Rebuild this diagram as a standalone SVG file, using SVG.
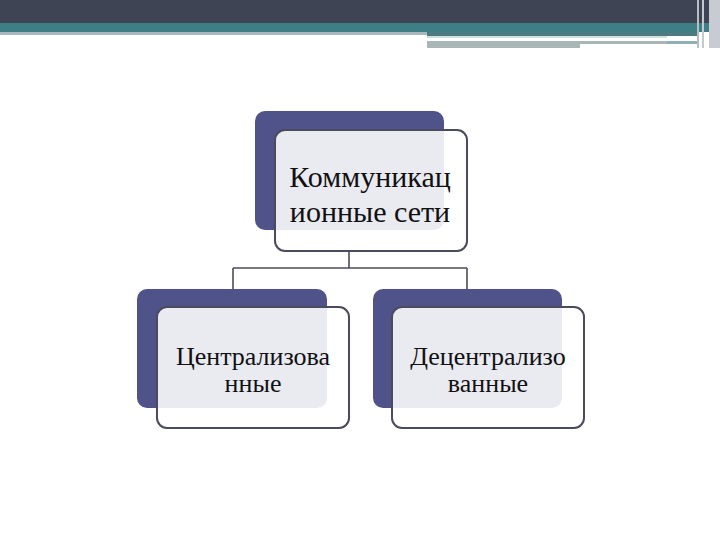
<svg xmlns="http://www.w3.org/2000/svg" width="720" height="540" viewBox="0 0 720 540">
<style>
.back{fill:#50528a}
.front{fill:#ffffff;fill-opacity:0.88;stroke:#4b4b5e;stroke-width:2}
.lbl{font-family:"Liberation Serif","Times New Roman",serif;fill:#111111;text-anchor:middle}
.conn{fill:none;stroke:#4b4b5e;stroke-width:1.6}
</style>
<rect x="0" y="0" width="720" height="540" fill="#ffffff"/>
<g id="header">
<rect x="0" y="0" width="720" height="24" fill="#3f4455"/>
<rect x="0" y="23" width="720" height="9" fill="#3e7f86"/>
<rect x="0" y="32" width="427" height="3" fill="#a9b8bd"/>
<rect x="427" y="32" width="270" height="4" fill="#4d7a80"/>
<rect x="427" y="36" width="240" height="2" fill="#cfe0e0"/>
<rect x="427" y="41" width="240" height="3" fill="#a8b6b6"/>
<rect x="667" y="41" width="30" height="3" fill="#8fb0b4"/>
<rect x="427" y="44" width="153" height="4" fill="#a8b6b6"/>
<rect x="697" y="0" width="2" height="48" fill="#b8bcc6"/>
<rect x="702" y="0" width="2" height="48" fill="#c4c8d0"/>
<rect x="709" y="0" width="11" height="48" fill="#c9cbd3"/>
</g>
<g id="connectors">
<path class="conn" d="M349 252 V268 M233 268 H467 M233 268 V290 M467 268 V290"/>
</g>
<g id="node-root">
<rect class="back" x="255" y="111" width="189" height="119" rx="10"/>
<rect class="front" x="275" y="130" width="192" height="121" rx="10"/>
<text class="lbl" font-size="30"><tspan x="370" y="187">Коммуникац</tspan><tspan x="370" y="222">ионные сети</tspan></text>
</g>
<g id="node-left">
<rect class="back" x="137" y="289" width="190" height="119" rx="10"/>
<rect class="front" x="157" y="307" width="192" height="121" rx="10"/>
<text class="lbl" font-size="26"><tspan x="253" y="365">Централизова</tspan><tspan x="253" y="392">нные</tspan></text>
</g>
<g id="node-right">
<rect class="back" x="373" y="289" width="189" height="119" rx="10"/>
<rect class="front" x="392" y="307" width="192" height="121" rx="10"/>
<text class="lbl" font-size="26"><tspan x="488" y="365">Децентрализо</tspan><tspan x="488" y="392">ванные</tspan></text>
</g>
</svg>
